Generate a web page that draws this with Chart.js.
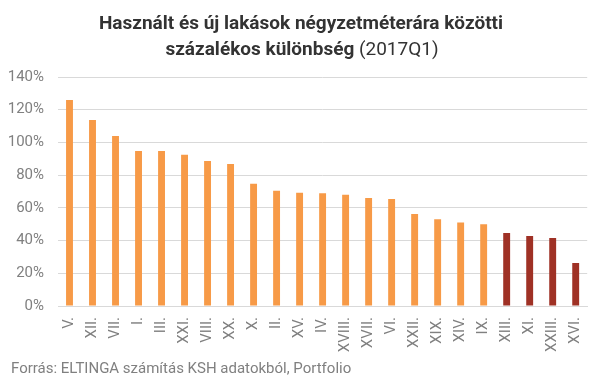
<!DOCTYPE html>
<html>
<head>
<meta charset="utf-8">
<script src="https://cdn.jsdelivr.net/npm/chart.js@4"></script>
<style>
html,body{margin:0;padding:0;background:#fff;}
#wrap{width:605px;height:378px;position:relative;}
</style>
</head>
<body>
<div id="wrap"><canvas id="c" width="605" height="378"></canvas></div>
<script>
const categories = ['V.','XII.','VII.','I.','III.','XXI.','VIII.','XX.','X.','II.','XV.','IV.','XVIII.','XVII.','VI.','XXII.','XIX.','XIV.','IX.','XIII.','XI.','XXIII.','XVI.'];
const values = [125.9,113.7,103.9,94.8,94.8,92.4,88.7,86.8,74.7,70.4,69.2,69.0,68.0,66.0,65.4,56.2,53.0,51.0,50.0,44.6,42.8,41.6,26.3];
const highlighted = ['XIII.','XI.','XXIII.','XVI.'];
const yTicks = [0,20,40,60,80,100,120,140];
const titleLine1 = 'Használt és új lakások négyzetméterára közötti';
const titleLine2Bold = 'százalékos különbség';
const titleLine2Normal = ' (2017Q1)';
const sourceText = 'Forrás: ELTINGA számítás KSH adatokból, Portfolio';

const ORANGE = '#F79A47';
const RED = '#9F3125';

const textPlugin = {
  id: 'texts',
  afterDraw(chart) {
    const ctx = chart.ctx;
    ctx.save();
    ctx.fillStyle = '#333333';
    ctx.textBaseline = 'alphabetic';
    ctx.font = 'bold 19px Roboto';
    ctx.textAlign = 'center';
    ctx.fillText(titleLine1, 301, 29);
    ctx.textAlign = 'left';
    const wb = ctx.measureText(titleLine2Bold).width;
    ctx.font = '19px Roboto';
    const wn = ctx.measureText(titleLine2Normal).width;
    const x0 = 302 - (wb + wn) / 2;
    ctx.font = 'bold 19px Roboto';
    ctx.fillText(titleLine2Bold, x0, 55);
    ctx.font = '19px Roboto';
    ctx.fillText(titleLine2Normal, x0 + wb, 55);
    ctx.fillStyle = '#808080';
    ctx.font = '15px Roboto';
    ctx.fillText(sourceText, 11, 373);
    ctx.restore();
  }
};

new Chart(document.getElementById('c'), {
  type: 'bar',
  data: {
    labels: categories,
    datasets: [{
      data: values,
      backgroundColor: categories.map(c => highlighted.includes(c) ? RED : ORANGE),
      barPercentage: 0.6,
      categoryPercentage: 0.5
    }]
  },
  options: {
    responsive: false,
    animation: false,
    devicePixelRatio: 1,
    layout: { padding: { top: 77, right: 14, bottom: 0, left: 0 } },
    plugins: { legend: { display: false }, title: { display: false }, tooltip: { enabled: false } },
    scales: {
      x: {
        grid: { display: false, drawTicks: false },
        border: { display: true, color: '#d9d9d9', width: 1 },
        ticks: {
          color: '#808080',
          font: { family: 'Roboto', size: 15 },
          minRotation: 90,
          maxRotation: 90,
          padding: 11,
          autoSkip: false
        },
        afterFit(scale) { scale.height = 72; }
      },
      y: {
        min: 0,
        max: 140,
        afterBuildTicks(scale) { scale.ticks = yTicks.map(v => ({ value: v })); },
        grid: { color: '#d9d9d9', lineWidth: 1, drawTicks: false },
        border: { display: false },
        ticks: {
          color: '#808080',
          font: { family: 'Roboto', size: 15 },
          padding: 14,
          callback: v => v + '%'
        },
        afterFit(scale) { scale.width = 58; }
      }
    }
  },
  plugins: [textPlugin]
});
</script>
</body>
</html>
